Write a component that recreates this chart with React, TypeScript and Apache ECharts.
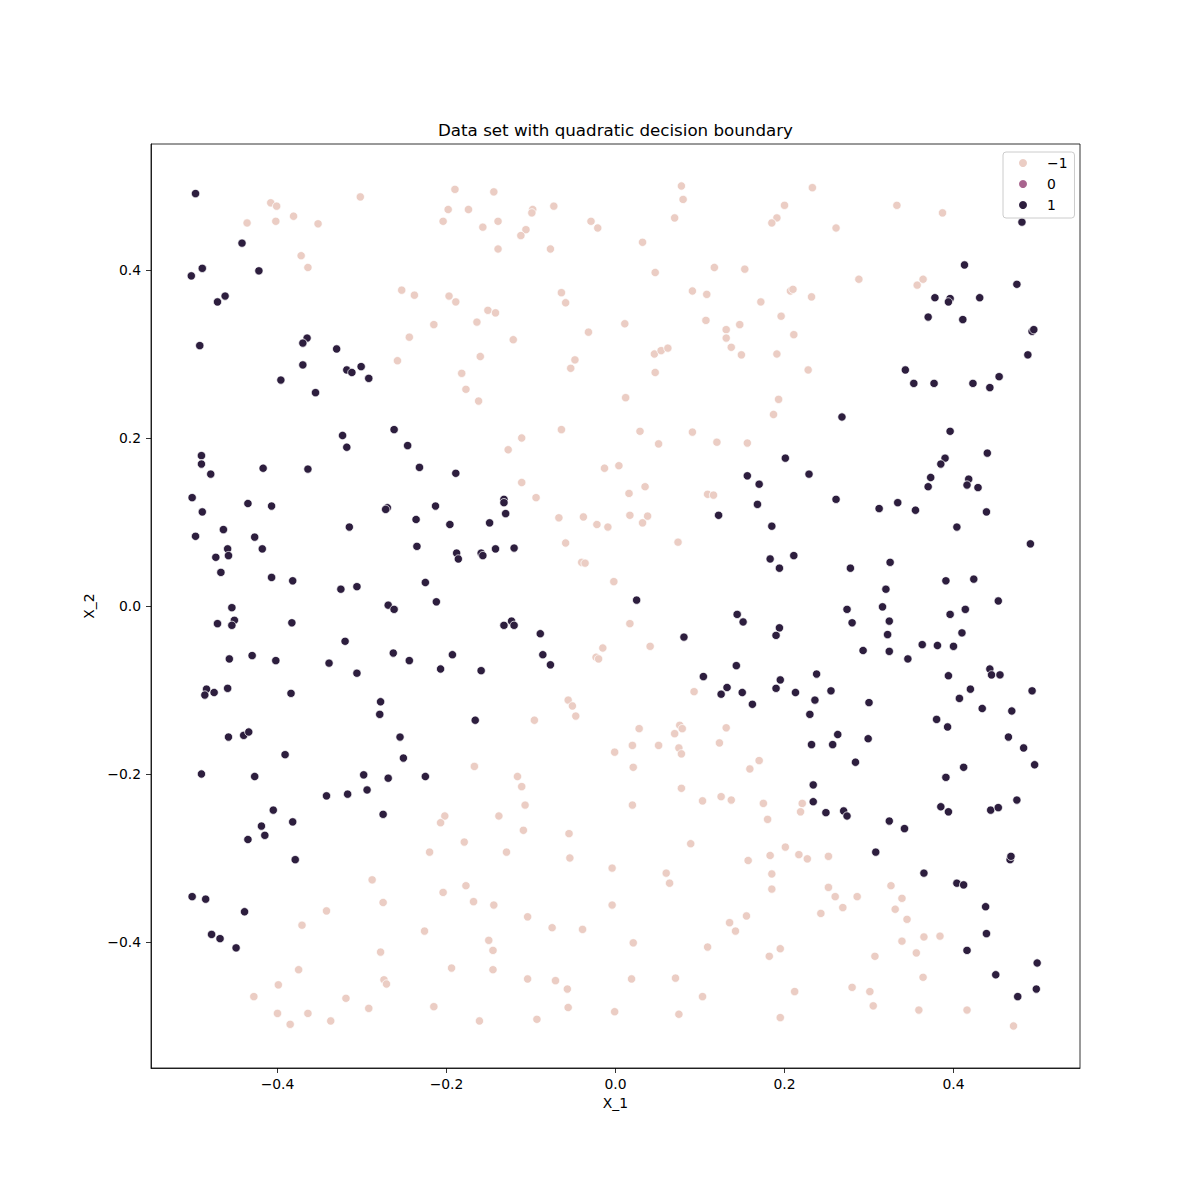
import React, { useEffect, useRef } from "react";
import * as echarts from "echarts";

// Class -1 points (light)
const negPoints: [number, number][] = [
  [-0.408, 0.48], [-0.401, 0.476], [-0.302, 0.487], [-0.436, 0.456], [-0.402, 0.458], [-0.381, 0.464], [-0.352, 0.455], [-0.372, 0.417], [-0.364, 0.403],
  [-0.19, 0.496], [-0.144, 0.493], [-0.198, 0.472], [-0.174, 0.472], [-0.204, 0.458], [-0.157, 0.451], [-0.139, 0.458], [-0.098, 0.472], [-0.099, 0.468], [-0.073, 0.476],
  [-0.106, 0.448], [-0.112, 0.441], [-0.029, 0.458], [-0.021, 0.45], [-0.139, 0.425], [-0.077, 0.425], [-0.253, 0.376], [-0.238, 0.37], [-0.197, 0.369], [-0.189, 0.362],
  [-0.151, 0.352], [-0.142, 0.349], [-0.064, 0.373], [-0.059, 0.361], [-0.215, 0.335], [-0.164, 0.338], [-0.244, 0.32], [-0.121, 0.317], [-0.032, 0.326], [-0.258, 0.292],
  [-0.16, 0.297], [-0.048, 0.293], [-0.053, 0.283], [-0.182, 0.277], [-0.177, 0.258], [-0.162, 0.244], [-0.064, 0.21], [-0.111, 0.2], [-0.127, 0.186],
  [0.078, 0.5], [0.08, 0.484], [0.07, 0.462], [0.233, 0.498], [0.2, 0.477], [0.191, 0.462], [0.185, 0.456], [0.261, 0.45], [0.032, 0.433], [0.047, 0.397],
  [0.117, 0.403], [0.153, 0.401], [0.091, 0.375], [0.108, 0.371], [0.207, 0.375], [0.21, 0.377], [0.232, 0.368], [0.172, 0.362], [0.011, 0.336], [0.107, 0.34],
  [0.196, 0.345], [0.131, 0.329], [0.147, 0.335], [0.131, 0.319], [0.137, 0.308], [0.149, 0.299], [0.191, 0.3], [0.211, 0.323], [0.046, 0.3], [0.054, 0.304],
  [0.062, 0.307], [0.047, 0.278], [0.228, 0.281], [0.012, 0.248], [0.193, 0.246], [0.187, 0.228], [0.029, 0.208], [0.051, 0.193], [0.091, 0.207], [0.12, 0.195], [0.156, 0.194],
  [0.333, 0.477], [0.387, 0.468], [0.288, 0.389], [0.364, 0.389], [0.357, 0.382],
  [-0.013, 0.164], [-0.111, 0.147], [-0.094, 0.129], [-0.067, 0.105], [-0.038, 0.106], [-0.022, 0.097], [-0.009, 0.094], [-0.059, 0.075], [-0.04, 0.052], [-0.036, 0.051],
  [-0.002, 0.029], [-0.015, -0.05], [-0.023, -0.061], [-0.02, -0.063], [-0.056, -0.112], [-0.051, -0.119], [-0.047, -0.131], [-0.096, -0.136], [-0.001, -0.174],
  [0.004, 0.167], [0.035, 0.142], [0.016, 0.134], [0.017, 0.108], [0.038, 0.107], [0.032, 0.099], [0.109, 0.133], [0.116, 0.132], [0.074, 0.076], [0.017, -0.021],
  [0.041, -0.048], [0.093, -0.102], [0.028, -0.146], [0.076, -0.142], [0.079, -0.146], [0.07, -0.152], [0.131, -0.145], [0.123, -0.163], [0.02, -0.166], [0.051, -0.166],
  [0.075, -0.169], [0.078, -0.176],
  [-0.288, -0.326], [-0.342, -0.363], [-0.371, -0.38], [-0.278, -0.412], [-0.375, -0.433], [-0.399, -0.451], [-0.428, -0.465], [-0.319, -0.467], [-0.292, -0.479],
  [-0.4, -0.485], [-0.364, -0.485], [-0.337, -0.494], [-0.385, -0.498],
  [-0.167, -0.191], [-0.116, -0.203], [-0.111, -0.215], [-0.107, -0.237], [-0.202, -0.25], [-0.207, -0.258], [-0.138, -0.25], [-0.109, -0.267], [-0.055, -0.271],
  [-0.179, -0.281], [-0.22, -0.293], [-0.129, -0.293], [-0.054, -0.3], [-0.004, -0.312], [-0.177, -0.333], [-0.204, -0.341], [-0.168, -0.352], [-0.144, -0.356],
  [-0.275, -0.353], [-0.004, -0.356], [-0.104, -0.37], [-0.075, -0.383], [-0.039, -0.385], [-0.226, -0.387], [-0.15, -0.398], [-0.145, -0.41], [-0.194, -0.431],
  [-0.145, -0.433], [-0.274, -0.445], [-0.271, -0.45], [-0.104, -0.444], [-0.071, -0.446], [-0.057, -0.456], [-0.056, -0.478], [-0.215, -0.477], [-0.161, -0.494],
  [-0.093, -0.492], [-0.001, -0.483],
  [0.021, -0.192], [0.17, -0.184], [0.159, -0.194], [0.078, -0.217], [0.02, -0.237], [0.103, -0.232], [0.125, -0.227], [0.137, -0.231], [0.175, -0.235], [0.18, -0.254],
  [0.221, -0.235], [0.219, -0.245], [0.089, -0.283], [0.201, -0.287], [0.183, -0.297], [0.217, -0.296], [0.227, -0.301], [0.252, -0.298], [0.157, -0.303], [0.06, -0.318],
  [0.064, -0.33], [0.185, -0.319], [0.185, -0.337], [0.252, -0.335], [0.26, -0.346], [0.269, -0.359], [0.243, -0.366], [0.155, -0.369], [0.135, -0.377], [0.142, -0.387],
  [0.021, -0.401], [0.109, -0.406], [0.195, -0.408], [0.182, -0.417], [0.019, -0.444], [0.071, -0.443], [0.103, -0.465], [0.212, -0.459], [0.075, -0.486], [0.195, -0.49],
  [0.326, -0.333], [0.286, -0.346], [0.339, -0.348], [0.331, -0.361], [0.345, -0.373], [0.339, -0.399], [0.365, -0.394], [0.384, -0.393], [0.356, -0.413], [0.307, -0.417],
  [0.364, -0.442], [0.28, -0.454], [0.301, -0.459], [0.305, -0.476], [0.359, -0.481], [0.416, -0.481], [0.471, -0.5],
];

// Class 1 points (dark)
const posPoints: [number, number][] = [
  [-0.497, 0.491], [-0.442, 0.432], [-0.489, 0.402], [-0.502, 0.393], [-0.422, 0.399], [-0.462, 0.369], [-0.471, 0.362], [-0.492, 0.31], [-0.365, 0.319], [-0.37, 0.313],
  [-0.33, 0.306], [-0.37, 0.287], [-0.318, 0.281], [-0.312, 0.278], [-0.301, 0.285], [-0.292, 0.271], [-0.396, 0.269], [-0.355, 0.254], [-0.323, 0.203], [-0.318, 0.189],
  [-0.262, 0.21], [-0.246, 0.191], [0.268, 0.225],
  [0.481, 0.457], [0.413, 0.406], [0.475, 0.383], [0.378, 0.367], [0.396, 0.366], [0.394, 0.362], [0.431, 0.367], [0.37, 0.344], [0.411, 0.341], [0.493, 0.327],
  [0.495, 0.329], [0.488, 0.299], [0.343, 0.281], [0.353, 0.265], [0.377, 0.265], [0.423, 0.265], [0.454, 0.273], [0.443, 0.26], [0.396, 0.208],
  [-0.49, 0.179], [-0.49, 0.169], [-0.479, 0.157], [-0.417, 0.164], [-0.364, 0.163], [-0.501, 0.129], [-0.489, 0.112], [-0.435, 0.122], [-0.407, 0.119], [-0.497, 0.083],
  [-0.464, 0.091], [-0.427, 0.082], [-0.459, 0.068], [-0.458, 0.06], [-0.473, 0.058], [-0.418, 0.068], [-0.467, 0.04], [-0.407, 0.034], [-0.382, 0.03], [-0.315, 0.094],
  [-0.325, 0.02], [-0.306, 0.023], [-0.454, -0.002], [-0.471, -0.021], [-0.451, -0.017], [-0.454, -0.023], [-0.383, -0.02], [-0.32, -0.042], [-0.457, -0.063],
  [-0.43, -0.059], [-0.402, -0.065], [-0.339, -0.068], [-0.306, -0.08], [-0.484, -0.099], [-0.486, -0.106], [-0.475, -0.103], [-0.459, -0.098], [-0.384, -0.104],
  [-0.278, -0.114], [-0.279, -0.129], [-0.458, -0.156], [-0.44, -0.154], [-0.434, -0.15], [-0.391, -0.177],
  [-0.232, 0.165], [-0.189, 0.158], [-0.27, 0.117], [-0.272, 0.115], [-0.213, 0.119], [-0.236, 0.103], [-0.196, 0.097], [-0.149, 0.099], [-0.132, 0.127], [-0.132, 0.123],
  [-0.13, 0.11], [-0.235, 0.071], [-0.188, 0.063], [-0.186, 0.056], [-0.159, 0.063], [-0.157, 0.06], [-0.142, 0.068], [-0.12, 0.069], [-0.225, 0.028], [-0.269, 0.001],
  [-0.262, -0.004], [-0.212, 0.005], [-0.132, -0.023], [-0.123, -0.018], [-0.12, -0.023], [-0.089, -0.033], [-0.263, -0.056], [-0.244, -0.065], [-0.193, -0.058],
  [-0.207, -0.075], [-0.159, -0.077], [-0.086, -0.058], [-0.077, -0.07], [-0.166, -0.136], [-0.255, -0.156], [-0.251, -0.181],
  [0.201, 0.176], [0.156, 0.155], [0.17, 0.145], [0.229, 0.157], [0.261, 0.127], [0.168, 0.121], [0.122, 0.108], [0.185, 0.095], [0.183, 0.056], [0.211, 0.06],
  [0.194, 0.045], [0.025, 0.007], [0.144, -0.01], [0.151, -0.019], [0.194, -0.026], [0.19, -0.035], [0.081, -0.037], [0.143, -0.071], [0.104, -0.084], [0.132, -0.097],
  [0.125, -0.105], [0.15, -0.103], [0.162, -0.117], [0.195, -0.088], [0.19, -0.098], [0.213, -0.103], [0.238, -0.081], [0.255, -0.101], [0.236, -0.112], [0.23, -0.129],
  [0.263, -0.153], [0.232, -0.165], [0.257, -0.165],
  [0.44, 0.182], [0.39, 0.176], [0.385, 0.169], [0.373, 0.153], [0.37, 0.142], [0.418, 0.151], [0.416, 0.144], [0.429, 0.141], [0.312, 0.116], [0.334, 0.123],
  [0.355, 0.114], [0.439, 0.112], [0.404, 0.094], [0.491, 0.074], [0.278, 0.045], [0.325, 0.052], [0.391, 0.03], [0.424, 0.032], [0.32, 0.02], [0.274, -0.004],
  [0.28, -0.02], [0.316, -0.001], [0.324, -0.018], [0.322, -0.034], [0.453, 0.006], [0.414, -0.004], [0.396, -0.01], [0.41, -0.032], [0.293, -0.053], [0.324, -0.054],
  [0.346, -0.063], [0.363, -0.046], [0.381, -0.047], [0.4, -0.048], [0.394, -0.083], [0.443, -0.075], [0.445, -0.082], [0.455, -0.082], [0.42, -0.099], [0.407, -0.11],
  [0.493, -0.101], [0.434, -0.122], [0.469, -0.125], [0.3, -0.115], [0.38, -0.135], [0.393, -0.144], [0.299, -0.158], [0.465, -0.156], [0.483, -0.169],
  [-0.49, -0.2], [-0.427, -0.203], [-0.298, -0.201], [-0.294, -0.219], [-0.317, -0.224], [-0.342, -0.226], [-0.405, -0.243], [-0.382, -0.257], [-0.419, -0.262],
  [-0.415, -0.273], [-0.435, -0.278], [-0.379, -0.302], [-0.501, -0.346], [-0.485, -0.349], [-0.439, -0.364], [-0.478, -0.391], [-0.468, -0.396], [-0.449, -0.407],
  [-0.269, -0.205], [-0.225, -0.203], [-0.275, -0.248],
  [0.234, -0.213], [0.234, -0.233], [0.249, -0.246], [0.27, -0.244],
  [0.284, -0.186], [0.412, -0.192], [0.496, -0.189], [0.391, -0.204], [0.274, -0.25], [0.324, -0.256], [0.342, -0.265], [0.385, -0.239], [0.394, -0.245], [0.444, -0.243],
  [0.453, -0.24], [0.475, -0.231], [0.308, -0.293], [0.467, -0.302], [0.468, -0.298], [0.365, -0.318], [0.404, -0.33], [0.412, -0.332], [0.438, -0.358], [0.439, -0.39],
  [0.416, -0.41], [0.499, -0.425], [0.45, -0.439], [0.498, -0.456], [0.476, -0.465],
];

// Class 0 has no points (legend entry only)
const zeroPoints: [number, number][] = [];

const classNames = ["−1", "0", "1"];
const classColors = ["#ebcdc4", "#a8648e", "#2d1e3e"];
const tickValues = [-0.4, -0.2, 0, 0.2, 0.4];
const titleText = "Data set with quadratic decision boundary";
const xName = "X_1";
const yName = "X_2";

const fmt = (v: number) => v.toFixed(1).replace("-", "\u2212");

export default function App() {
  const ref = useRef<HTMLDivElement>(null);
  useEffect(() => {
    if (!ref.current) return;
    const chart = echarts.init(ref.current, null, { renderer: "svg" });
    const font = "DejaVu Sans";
    const axisBase = {
      type: "value",
      axisLine: { show: true, onZero: false, lineStyle: { color: "#000", width: 0.8 } },
      axisTick: { show: true, length: 5, customValues: tickValues, lineStyle: { color: "#000", width: 0.8 } },
      axisLabel: { customValues: tickValues, formatter: fmt, color: "#000", fontSize: 13.9, fontFamily: font },
      splitLine: { show: false },
      nameLocation: "middle",
      nameTextStyle: { color: "#000", fontSize: 13.9, fontFamily: font },
    };
    const seriesData = [negPoints, zeroPoints, posPoints];
    chart.setOption({
      animation: false,
      textStyle: { fontFamily: font },
      title: {
        text: titleText,
        left: 615.5,
        top: 121,
        textAlign: "center",
        padding: 0,
        textStyle: { fontSize: 16.7, fontWeight: "normal", color: "#000", fontFamily: font },
      },
      grid: {
        left: 151,
        top: 144,
        width: 929,
        height: 924,
        show: true,
        borderColor: "#000",
        borderWidth: 0.8,
        backgroundColor: "transparent",
      },
      xAxis: {
        ...axisBase,
        min: -0.5497,
        max: 0.5497,
        name: xName,
        nameGap: 28,
        axisLabel: { ...axisBase.axisLabel, margin: 9 },
      },
      yAxis: {
        ...axisBase,
        min: -0.55,
        max: 0.55,
        name: yName,
        nameGap: 50,
        axisLabel: { ...axisBase.axisLabel, margin: 10 },
      },
      legend: {
        orient: "vertical",
        left: 1003,
        top: 152,
        data: classNames.map((name) => ({ name, icon: "circle" })),
        itemWidth: 10,
        itemHeight: 10,
        itemGap: 7,
        padding: [4, 7, 6, 14],
        backgroundColor: "#fff",
        borderColor: "#cccccc",
        borderWidth: 1,
        borderRadius: 3,
        selectedMode: false,
        textStyle: { fontSize: 13.9, color: "#000", fontFamily: font, padding: [0, 0, 0, 14] },
      },
      series: classNames.map((name, i) => ({
        type: "scatter",
        name,
        data: seriesData[i],
        symbol: "circle",
        symbolSize: 8.3,
        itemStyle: { color: classColors[i], borderColor: "#fff", borderWidth: 0.75, opacity: 1 },
        emphasis: { disabled: true },
      })),
    });
    return () => chart.dispose();
  }, []);
  return <div ref={ref} style={{ position: "absolute", left: 0, top: 0, width: 1200, height: 1200 }} />;
}
